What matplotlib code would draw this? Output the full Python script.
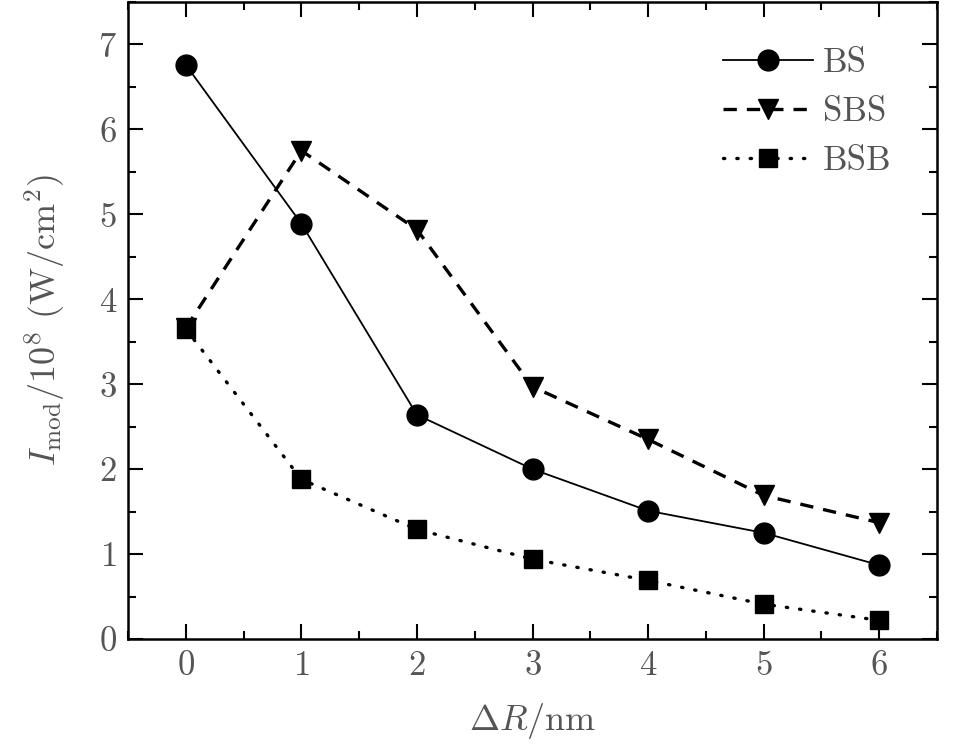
import matplotlib
matplotlib.use("Agg")
import matplotlib.pyplot as plt
from matplotlib.ticker import MultipleLocator

plt.rcParams['font.family'] = 'serif'
plt.rcParams['font.serif'] = ['cmr10', 'DejaVu Serif']
plt.rcParams['mathtext.fontset'] = 'cm'
plt.rcParams['axes.formatter.use_mathtext'] = True

dR = [0, 1, 2, 3, 4, 5, 6]
bs = [6.76, 4.89, 2.64, 2.00, 1.51, 1.25, 0.87]
sbs = [3.66, 5.75, 4.82, 2.97, 2.35, 1.69, 1.37]
bsb = [3.65, 1.88, 1.29, 0.94, 0.69, 0.41, 0.22]

txt = '#555555'
fig = plt.figure(figsize=(9.6, 7.44), dpi=100)
ax = fig.add_axes([128/960, 1-639/744, (937-128)/960, (639-2)/744])

ax.plot(dR, bs, '-', color='black', lw=1.3, marker='o', ms=15, label='BS')
ax.plot(dR, sbs, color='black', lw=2.4, ls=(0, (4, 3)), marker='v', ms=15, label='SBS')
ax.plot(dR, bsb, color='black', lw=2.4, ls=(0, (0.4, 3.6)), dash_capstyle='round',
        marker='s', ms=12.5, label='BSB')

ax.set_xlim(-0.5, 6.5)
ax.set_ylim(0, 7.5)
ax.xaxis.set_major_locator(MultipleLocator(1))
ax.xaxis.set_minor_locator(MultipleLocator(0.5))
ax.yaxis.set_major_locator(MultipleLocator(1))
ax.yaxis.set_minor_locator(MultipleLocator(0.5))
ax.tick_params(which='both', direction='in', top=True, right=True, width=1.5, colors='black',
               labelcolor=txt, labelsize=25, pad=8)
ax.tick_params(which='major', length=11)
ax.tick_params(which='minor', length=6)
for s in ax.spines.values():
    s.set_linewidth(1.8)

ax.set_xlabel(r'$\Delta R/\mathrm{nm}$', fontsize=26, color=txt, labelpad=14)
ax.set_ylabel(r'$I_{\rm mod}/10^8\ (\mathrm{W/cm^2})$', fontsize=26, color=txt, labelpad=22)

leg = ax.legend(loc='upper right', frameon=False, fontsize=25, handlelength=2.6,
                handletextpad=0.3, borderaxespad=0.9, labelspacing=0.5)
for t in leg.get_texts():
    t.set_color(txt)

fig.savefig('out.png', dpi=100, facecolor='white')
